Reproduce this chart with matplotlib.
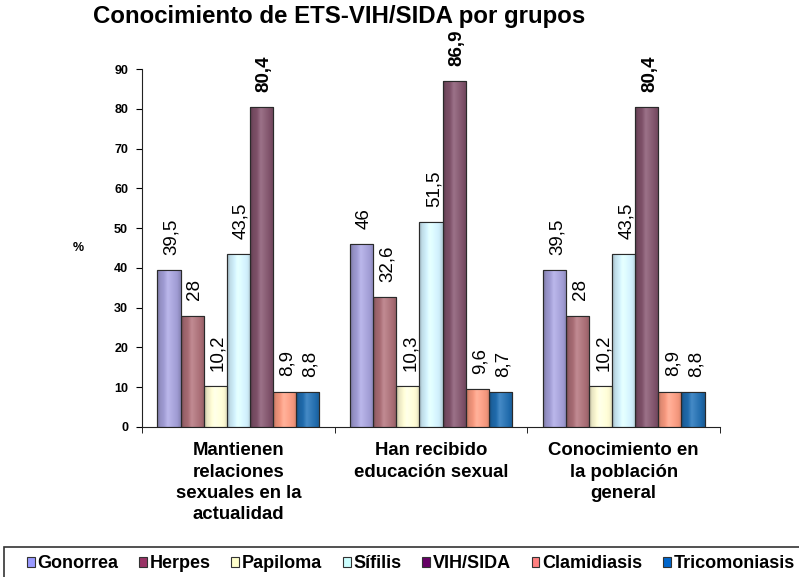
import numpy as np
import matplotlib
matplotlib.use("Agg")
from matplotlib import pyplot as plt
from matplotlib.colors import to_rgb
from matplotlib.patches import Rectangle

plt.rcParams['font.family'] = ['Liberation Sans', 'DejaVu Sans']

# data
groups = ["Mantienen\nrelaciones\nsexuales en la\nactualidad",
          "Han recibido\neducación sexual",
          "Conocimiento en\nla población\ngeneral"]
series = ["Gonorrea", "Herpes", "Papiloma", "Sífilis", "VIH/SIDA", "Clamidiasis", "Tricomoniasis"]
values = [
    [39.5, 46.0, 39.5],   # Gonorrea
    [28.0, 32.6, 28.0],   # Herpes
    [10.2, 10.3, 10.2],   # Papiloma
    [43.5, 51.5, 43.5],   # Sífilis
    [80.4, 86.9, 80.4],   # VIH/SIDA
    [8.9, 9.6, 8.9],      # Clamidiasis
    [8.8, 8.7, 8.8],      # Tricomoniasis
]
yticks = list(range(0, 91, 10))

# colours: bar face (shaded look) and legend swatch (flat palette)
bar_colors = ["#9f9bd3", "#a66b73", "#fbf8d2", "#cfeefa", "#7d5068", "#f3967c", "#1f6aab"]
legend_colors = ["#9999ff", "#993366", "#ffffcc", "#ccffff", "#660066", "#ff8080", "#0066cc"]


def gradient_img(color):
    base = np.array(to_rgb(color))
    t = np.linspace(0, 1, 64)
    # dark left edge, lighter middle, slightly dark right edge
    k = np.interp(t, [0, 0.12, 0.45, 0.85, 1.0], [0.72, 0.92, 1.08, 1.0, 0.85])
    row = np.clip(base[None, :] * k[:, None] + (k[:, None] > 1) * (1 - base[None, :]) * (k[:, None] - 1) * 2, 0, 1)
    return row[None, :, :]


fig = plt.figure(figsize=(7.99, 5.77), dpi=100)
ax = fig.add_axes([0.1777, 0.2600, 0.7234, 0.6204])

x = np.arange(len(groups))
w = 0.12
for i, name in enumerate(series):
    xs = x + (i - 3) * w
    bars = ax.bar(xs, values[i], width=w, color=bar_colors[i], edgecolor="#2a2a2a",
                  linewidth=0.8, zorder=2)
    for b, v in zip(bars, values[i]):
        im = ax.imshow(gradient_img(bar_colors[i]), aspect="auto", zorder=2.5,
                       extent=(b.get_x(), b.get_x() + b.get_width(), 0, v),
                       interpolation="bilinear")
        im.set_clip_path(b)
        edge = Rectangle((b.get_x(), 0), b.get_width(), v, fill=False,
                         edgecolor="#2a2a2a", linewidth=0.8, zorder=3)
        ax.add_patch(edge)
        label = f"{v:g}".replace(".", ",")
        ax.annotate(label, (b.get_x() + b.get_width() / 2, v), xytext=(2, 11),
                    textcoords="offset points", rotation=90, ha="center", va="bottom",
                    fontsize=13.5, fontweight="bold" if name == "VIH/SIDA" else "normal",
                    annotation_clip=False)

ax.set_xlim(-0.5, 2.5)
ax.set_ylim(0, 90)
ax.set_yticks(yticks)
ax.set_yticklabels([str(t) for t in yticks], fontsize=9, fontweight="bold")
ax.set_xticks(x)
ax.set_xticklabels(groups, fontsize=13.4, fontweight="bold", linespacing=1.33)
ax.set_xticks([-0.5, 0.5, 1.5, 2.5], minor=True)
ax.tick_params(axis="x", which="major", length=0, pad=11)
ax.tick_params(axis="x", which="minor", length=4, direction="out")
ax.tick_params(axis="y", length=4, direction="out", pad=6)
for s in ["top", "right"]:
    ax.spines[s].set_visible(False)
for s in ["left", "bottom"]:
    ax.spines[s].set_color("#222222")
    ax.spines[s].set_linewidth(0.8)

fig.text(93 / 799, 1 - 17 / 577, "Conocimiento de ETS-VIH/SIDA por grupos",
         fontsize=17.3, fontweight="bold", va="center", ha="left")
fig.text(78 / 799, 1 - 248 / 577, "%", fontsize=9, fontweight="bold",
         ha="center", va="center")

# legend with a box running off the bottom/right of the figure
handles = [Rectangle((0, 0), 1, 1, facecolor=c, edgecolor="#333333", linewidth=0.8)
           for c in legend_colors]
fig.legend(handles, series, loc="center left", bbox_to_anchor=(27 / 799, 1 - 564 / 577),
           ncol=7, frameon=False, prop={"weight": "bold", "size": 13},
           handlelength=0.42, handleheight=0.42, handletextpad=0.15,
           columnspacing=1.16, borderpad=0, borderaxespad=0)
fig.patches.append(Rectangle((4 / 799, -0.1), 1.0, 0.1 + 1 - 547 / 577, fill=False,
                             edgecolor="#333333", linewidth=1.2,
                             transform=fig.transFigure, figure=fig))

fig.savefig("out.png", dpi=100)
